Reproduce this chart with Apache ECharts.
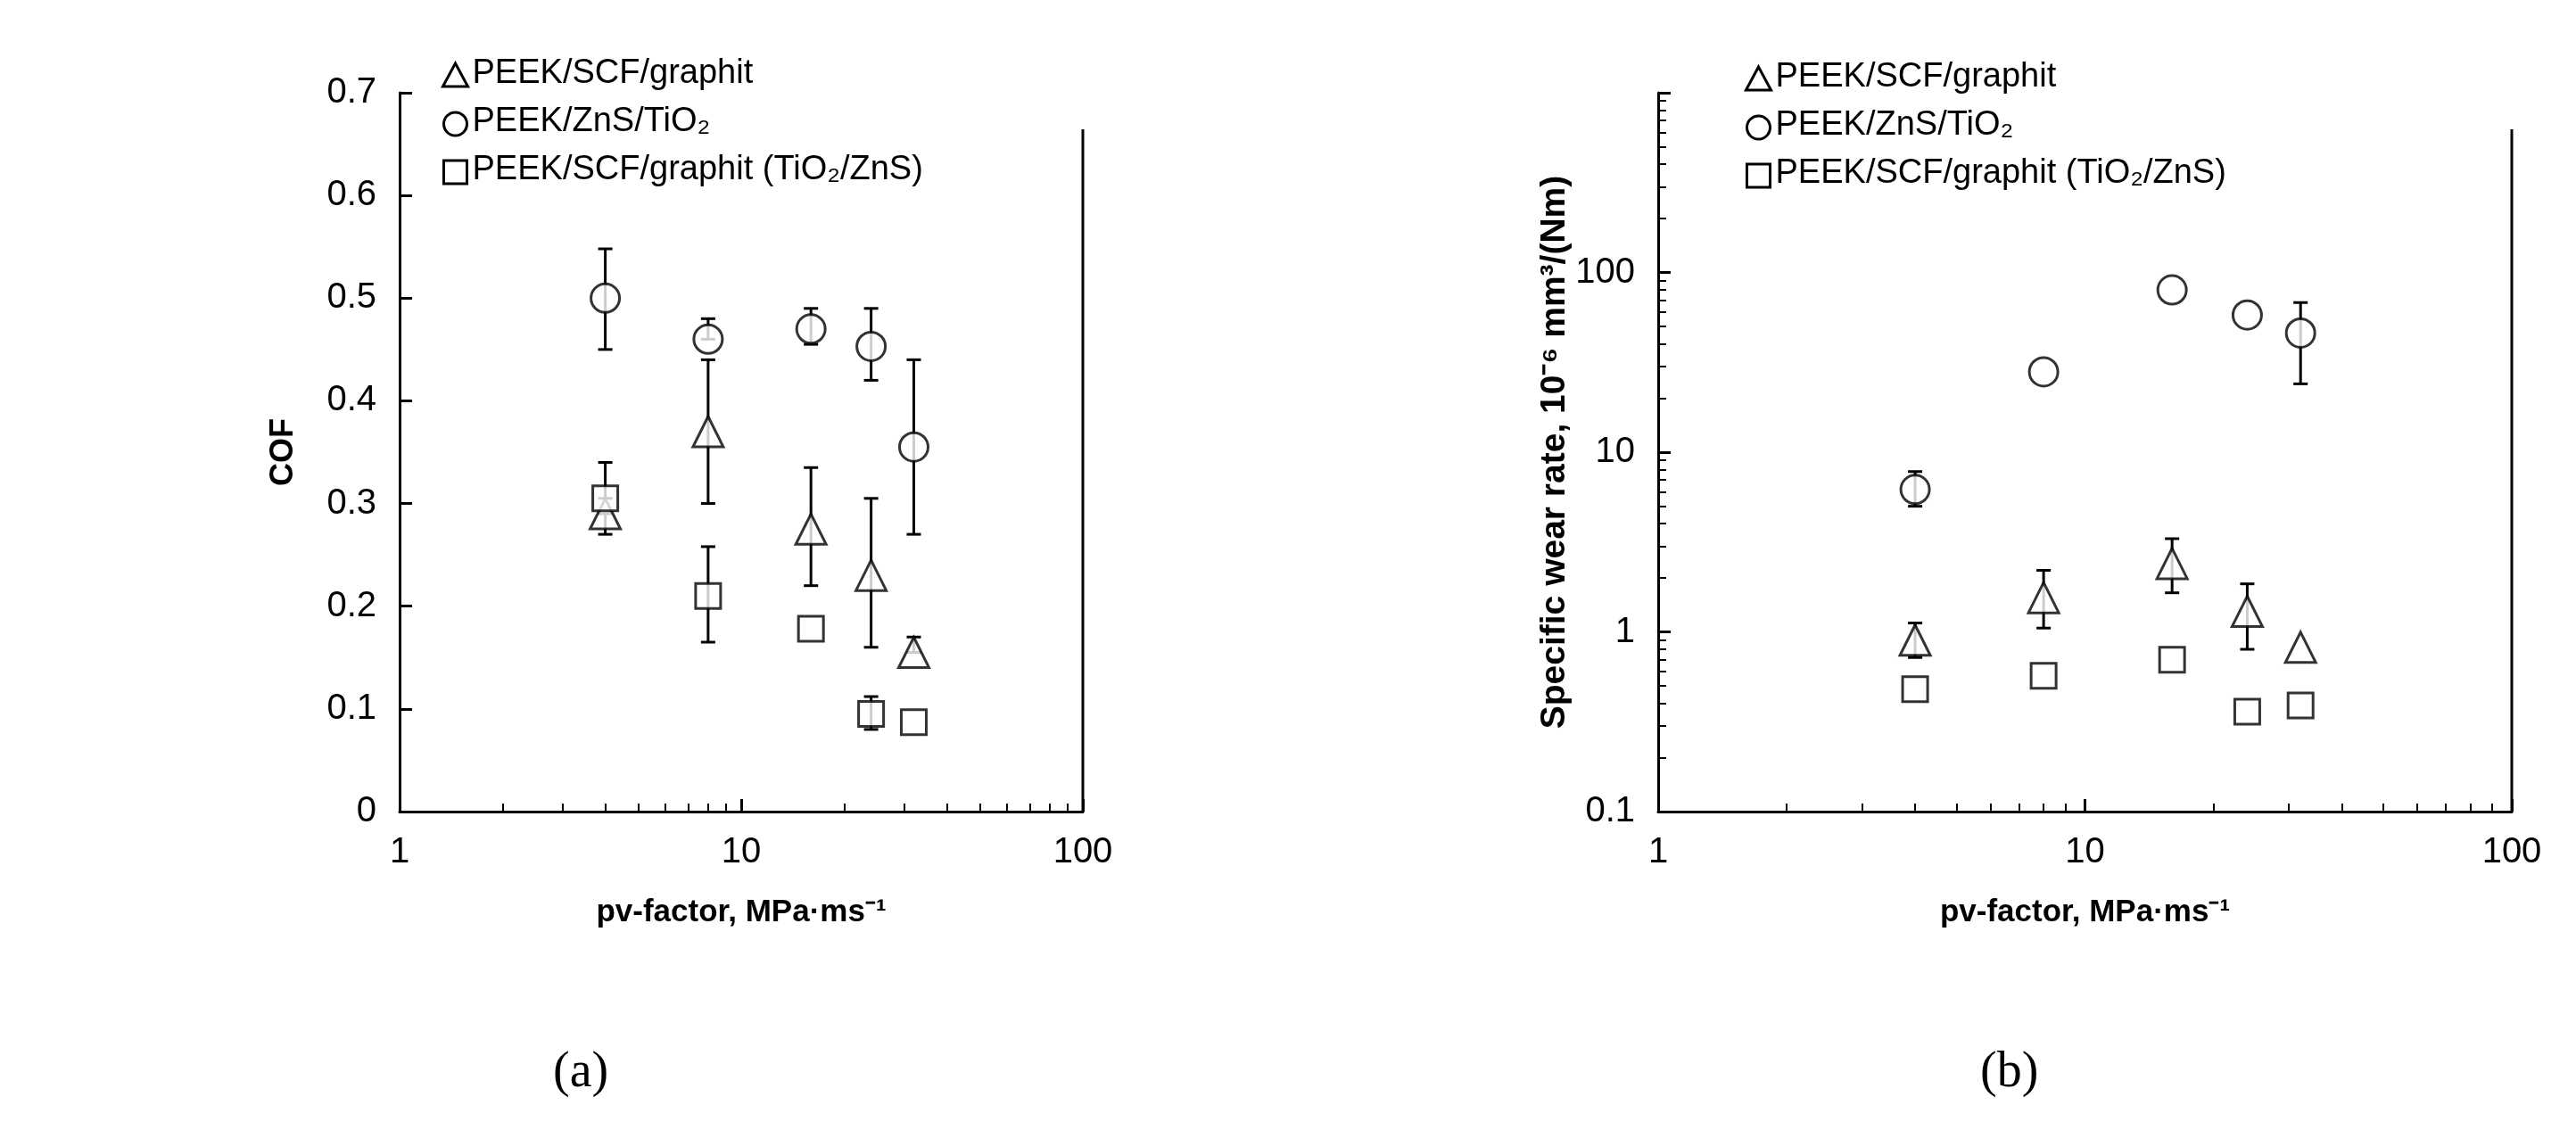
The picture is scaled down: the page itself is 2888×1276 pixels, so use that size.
<!DOCTYPE html>
<html><head><meta charset="utf-8">
<script src="https://cdn.jsdelivr.net/npm/echarts@6/dist/echarts.min.js"></script>
<style>html,body{margin:0;padding:0;background:#fff}#c{width:2888px;height:1276px}</style>
</head><body><div id="c"></div>
<script>
const pv = [4, 8, 16, 24, 32];
const seriesNames = ['PEEK/SCF/graphit', 'PEEK/ZnS/TiO₂', 'PEEK/SCF/graphit (TiO₂/ZnS)'];
const cofTri = [0.29, 0.37, 0.275, 0.23, 0.155];
const cofTriLo = [0.27, 0.30, 0.22, 0.16, 0.155];
const cofTriHi = [0.29, 0.44, 0.335, 0.305, 0.17];
const cofCir = [0.50, 0.46, 0.47, 0.453, 0.355];
const cofCirLo = [0.45, 0.46, 0.455, 0.42, 0.27];
const cofCirHi = [0.548, 0.48, 0.49, 0.49, 0.44];
const cofSq = [0.305, 0.21, 0.178, 0.095, 0.087];
const cofSqLo = [0.305, 0.165, 0.178, 0.08, 0.087];
const cofSqHi = [0.34, 0.258, 0.178, 0.112, 0.087];
const wrTri = [0.9, 1.55, 2.4, 1.3, 0.82];
const wrTriLo = [0.72, 1.05, 1.65, 0.8, 0.82];
const wrTriHi = [1.12, 2.2, 3.3, 1.85, 0.82];
const wrCir = [6.2, 28, 80, 58, 46];
const wrCirLo = [5.0, 28, 80, 58, 24];
const wrCirHi = [7.8, 28, 80, 58, 68];
const wrSq = [0.48, 0.57, 0.70, 0.36, 0.39];

const font = 'Liberation Sans';
const symbols = ['triangle', 'circle', 'rect'];
const sizes = [34, 32, 28];

function errSeries(ax, lo, hi) {
  return {
    type: 'custom', xAxisIndex: ax, yAxisIndex: ax, silent: true, z: 1,
    data: pv.map((x, i) => [x, lo[i], hi[i]]),
    renderItem: (params, api) => {
      const a = api.coord([api.value(0), api.value(1)]);
      const b = api.coord([api.value(0), api.value(2)]);
      if (Math.abs(a[1] - b[1]) < 2) return null;
      const st = { stroke: '#000', lineWidth: 3 };
      return { type: 'group', children: [
        { type: 'line', shape: { x1: a[0], y1: a[1], x2: b[0], y2: b[1] }, style: st },
        { type: 'line', shape: { x1: a[0] - 8, y1: a[1], x2: a[0] + 8, y2: a[1] }, style: st },
        { type: 'line', shape: { x1: b[0] - 8, y1: b[1], x2: b[0] + 8, y2: b[1] }, style: st }
      ]};
    }
  };
}
function pts(ax, k, vals) {
  return {
    type: 'scatter', name: seriesNames[k] + ax, xAxisIndex: ax, yAxisIndex: ax, z: 3,
    symbol: symbols[k], symbolSize: sizes[k],
    itemStyle: { color: '#fff', borderColor: '#000', borderWidth: 3 },
    data: pv.map((x, i) => [x, vals[i]])
  };
}
const axLine = { show: true, lineStyle: { color: '#000', width: 3 } };
const tick = { show: true, inside: true, length: 14, lineStyle: { color: '#000', width: 3 } };
const minor = { show: true, length: 9, lineStyle: { color: '#000', width: 2 } };
const lab = { color: '#000', fontFamily: font, fontSize: 40 };
function xAx(i) {
  return { type: 'log', gridIndex: i, min: 1, max: 100, logBase: 10,
    axisLine: axLine, axisTick: tick, minorTick: Object.assign({ splitNumber: 9 }, minor),
    axisLabel: Object.assign({ margin: 26 }, lab), splitLine: { show: false }, minorSplitLine: { show: false },
    name: 'pv-factor, MPa·ms⁻¹', nameLocation: 'middle', nameGap: 96,
    nameTextStyle: { color: '#000', fontFamily: font, fontWeight: 'bold', fontSize: 35 } };
}
function legendGroup(x, y) {
  return { type: 'group', left: x, top: y, children: seriesNames.map((n, k) => ({
    type: 'group', y: k * 54, children: [
      { type: k === 1 ? 'circle' : (k === 2 ? 'rect' : 'polygon'),
        shape: k === 1 ? { cx: 14, cy: 22, r: 13 } : (k === 2 ? { x: 1, y: 9, width: 26, height: 26 } : { points: [[14, 8], [28, 34], [0, 34]] }),
        style: { fill: '#fff', stroke: '#000', lineWidth: 3 } },
      { type: 'text', x: 33, y: 1, style: { text: n, font: '38px "Liberation Sans"', fill: '#000' } }
    ] })) };
}

const option = {
  backgroundColor: '#fff', animation: false,
  grid: [
    { left: 448, width: 766, top: 104, height: 806 },
    { left: 1859, width: 957, top: 104, height: 806 }
  ],
  xAxis: [xAx(0), xAx(1)],
  yAxis: [
    { type: 'value', gridIndex: 0, min: 0, max: 0.7, interval: 0.1,
      axisLine: axLine, axisTick: tick, axisLabel: Object.assign({ margin: 26 }, lab), splitLine: { show: false },
      name: 'COF', nameLocation: 'middle', nameGap: 112,
      nameTextStyle: { color: '#000', fontFamily: font, fontWeight: 'bold', fontSize: 36 } },
    { type: 'log', gridIndex: 1, min: 0.1, max: 1000, logBase: 10,
      axisLine: axLine, axisTick: tick, minorTick: Object.assign({ splitNumber: 9 }, minor),
      axisLabel: Object.assign({ margin: 26, formatter: v => v >= 1000 ? '' : String(v) }, lab),
      splitLine: { show: false }, minorSplitLine: { show: false },
      name: 'Specific wear rate, 10⁻⁶ mm³/(Nm)', nameLocation: 'middle', nameGap: 88,
      nameTextStyle: { color: '#000', fontFamily: font, fontWeight: 'bold', fontSize: 39 } }
  ],
  graphic: [
    { type: 'line', shape: { x1: 1214, y1: 145, x2: 1214, y2: 910 }, style: { stroke: '#000', lineWidth: 3 } },
    { type: 'line', shape: { x1: 2816, y1: 145, x2: 2816, y2: 910 }, style: { stroke: '#000', lineWidth: 3 } },
    { type: 'text', left: 620, top: 1175, style: { text: '(a)', font: '56px "Liberation Serif"', fill: '#000' } },
    { type: 'text', left: 2220, top: 1175, style: { text: '(b)', font: '56px "Liberation Serif"', fill: '#000' } },
    legendGroup(495, 64),
    legendGroup(1956, 68)
  ],
  series: [
    errSeries(0, cofTriLo, cofTriHi), errSeries(0, cofCirLo, cofCirHi), errSeries(0, cofSqLo, cofSqHi),
    pts(0, 0, cofTri), pts(0, 1, cofCir), pts(0, 2, cofSq),
    errSeries(1, wrTriLo, wrTriHi), errSeries(1, wrCirLo, wrCirHi),
    pts(1, 0, wrTri), pts(1, 1, wrCir), pts(1, 2, wrSq)
  ]
};
echarts.init(document.getElementById('c')).setOption(option);
</script></body></html>
